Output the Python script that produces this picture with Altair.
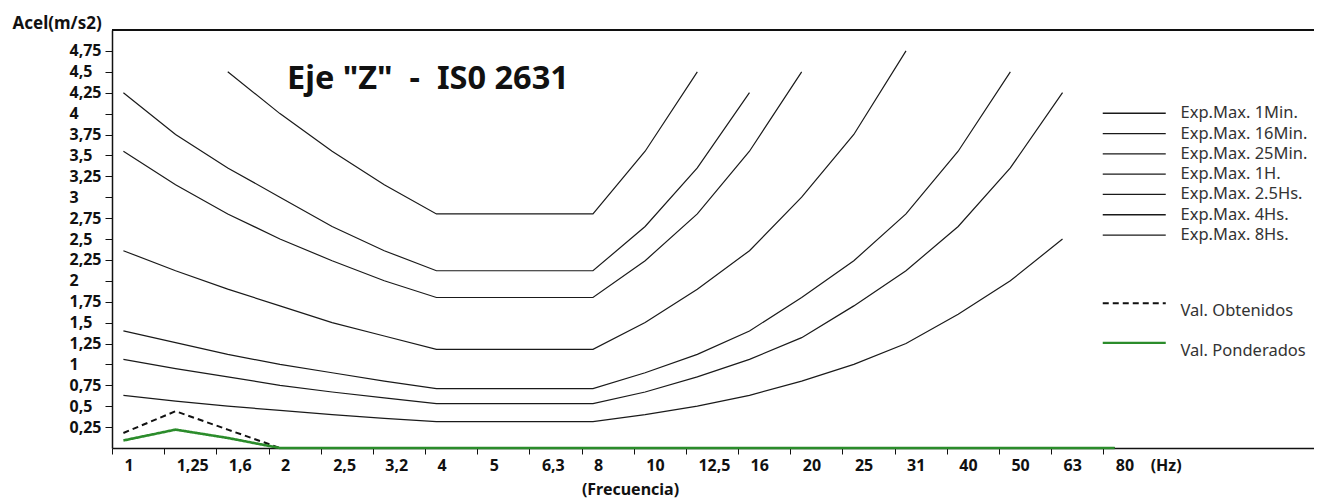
import json
import altair as alt
import pandas as pd

# ---------------- data ----------------
FREQ_LABELS = ["1", "1,25", "1,6", "2", "2,5", "3,2", "4", "5", "6,3", "8",
               "10", "12,5", "16", "20", "25", "31", "40", "50", "63", "80"]
UNIT_LABEL = "(Hz)"
Y_TICKS = [0.25, 0.5, 0.75, 1, 1.25, 1.5, 1.75, 2, 2.25, 2.5, 2.75, 3, 3.25,
           3.5, 3.75, 4, 4.25, 4.5, 4.75]

EXP_NAMES = ["Exp.Max. 1Min.", "Exp.Max. 16Min.", "Exp.Max. 25Min.", "Exp.Max. 1H.",
             "Exp.Max. 2.5Hs.", "Exp.Max. 4Hs.", "Exp.Max. 8Hs."]
# values start at the first frequency index given in EXP_START
EXP_START = [2, 0, 0, 0, 0, 0, 0]
EXP_1MIN = [4.5, 4.0, 3.55, 3.15, 2.8, 2.8, 2.8, 2.8, 3.55, 4.5]
EXP_16MIN = [4.25, 3.75, 3.35, 3.0, 2.65, 2.36, 2.12, 2.12, 2.12, 2.12, 2.65, 3.35, 4.25]
EXP_25MIN = [3.55, 3.15, 2.8, 2.5, 2.24, 2.0, 1.8, 1.8, 1.8, 1.8, 2.24, 2.8, 3.55, 4.5]
EXP_1H = [2.36, 2.12, 1.9, 1.7, 1.5, 1.34, 1.18, 1.18, 1.18, 1.18, 1.5, 1.9, 2.36, 3.0,
          3.75, 4.75]
EXP_2_5H = [1.4, 1.26, 1.12, 1.0, 0.9, 0.8, 0.71, 0.71, 0.71, 0.71, 0.9, 1.12, 1.4, 1.8,
            2.24, 2.8, 3.55, 4.5]
EXP_4H = [1.06, 0.95, 0.85, 0.75, 0.67, 0.6, 0.53, 0.53, 0.53, 0.53, 0.67, 0.85, 1.06,
          1.32, 1.7, 2.12, 2.65, 3.35, 4.25]
EXP_8H = [0.63, 0.56, 0.5, 0.45, 0.4, 0.355, 0.315, 0.315, 0.315, 0.315, 0.4, 0.5, 0.63,
          0.8, 1.0, 1.25, 1.6, 2.0, 2.5]
EXP_SERIES = [EXP_1MIN, EXP_16MIN, EXP_25MIN, EXP_1H, EXP_2_5H, EXP_4H, EXP_8H]

VAL_NAMES = ["Val. Obtenidos", "Val. Ponderados"]
VAL_OBTENIDOS = [0.18, 0.44, 0.22, 0, 0, 0, 0, 0, 0, 0, 0, 0, 0, 0, 0, 0, 0, 0, 0, 0]
VAL_PONDERADOS = [0.09, 0.22, 0.12, 0, 0, 0, 0, 0, 0, 0, 0, 0, 0, 0, 0, 0, 0, 0, 0, 0]

# ---------------- tables ----------------
rows = []
for name, start, vals in zip(EXP_NAMES, EXP_START, EXP_SERIES):
    for k, v in enumerate(vals):
        rows.append({"idx": start + k, "serie": name, "value": v})
df_exp = pd.DataFrame(rows)

rows = []
for name, vals in zip(VAL_NAMES, [VAL_OBTENIDOS, VAL_PONDERADOS]):
    for k, v in enumerate(vals):
        rows.append({"idx": k, "medida": name, "value": v})
df_val = pd.DataFrame(rows)

FONT = "Noto Sans"
X_OFF = 0.2185
X_MAX = 22.82
tick_vals = [k - X_OFF for k in range(len(FREQ_LABELS))] + [19.45]
lab_js = json.dumps(FREQ_LABELS + [UNIT_LABEL])

x_axis = alt.Axis(
    values=tick_vals,
    labelExpr=f"{lab_js}[round(datum.value + {X_OFF})]",
    labelAlign="left", labelOffset=12, labelPadding=3, labelBaseline="top",
    labelFont=FONT, labelFontSize=16, labelFontWeight="bold", labelColor="#111",
    labelOverlap=False, labelFlush=False,
    tickSize=6, tickColor="#111", tickWidth=1,
    tickOpacity={"condition": {"test": "datum.value > 19", "value": 0}, "value": 1},
    domainColor="#111", domainWidth=1.5, grid=False,
    title="(Frecuencia)", titleFont=FONT, titleFontSize=16, titleFontWeight="bold",
    titleColor="#111", titleX=518, titleY=41, titleAlign="center",
    titleBaseline="middle", titleAnchor="start",
)
y_axis = alt.Axis(
    values=Y_TICKS,
    labelExpr="replace(toString(datum.value), '.', ',')",
    labelAlign="left", labelPadding=36, labelBaseline="middle",
    labelFont=FONT, labelFontSize=16, labelFontWeight="bold", labelColor="#111",
    labelOverlap=False, labelFlush=False, labelSeparation=0,
    tickSize=7, tickColor="#111", tickWidth=1,
    domainColor="#111", domainWidth=1.5, grid=False,
    title="Acel(m/s2)", titleAngle=0, titleX=-100, titleY=-7, titleAlign="left",
    titleBaseline="middle", titleFont=FONT, titleFontSize=17, titleFontWeight="bold",
    titleColor="#111", titleAnchor="start",
)
x_scale = alt.Scale(domain=[-X_OFF, X_MAX], nice=False, zero=False)
y_scale = alt.Scale(domain=[0, 5], nice=False)

exp_layer = alt.Chart(df_exp).mark_line(strokeWidth=1.2).encode(
    x=alt.X("idx:Q", scale=x_scale, axis=x_axis),
    y=alt.Y("value:Q", scale=y_scale, axis=y_axis),
    color=alt.Color(
        "serie:N",
        scale=alt.Scale(domain=EXP_NAMES, range=["#1a1a1a"] * len(EXP_NAMES)),
        legend=alt.Legend(
            orient="none", legendX=1014, legendY=75, title=None, padding=0,
            symbolType="M-10,0H10", symbolSize=39.69, symbolStrokeWidth=1.3,
            labelFont=FONT, labelFontSize=16.5, labelColor="#333", labelOffset=38,
            rowPadding=3.3, labelLimit=300,
        ),
    ),
    order=alt.Order("idx:Q"),
)

val_layer = alt.Chart(df_val).mark_line().encode(
    x=alt.X("idx:Q", scale=x_scale, axis=x_axis),
    y=alt.Y("value:Q", scale=y_scale, axis=y_axis),
    color=alt.Color(
        "medida:N",
        scale=alt.Scale(domain=VAL_NAMES, range=["#111111", "#2b8c2b"]),
        legend=alt.Legend(
            orient="none", legendX=1014, legendY=265, title=None, padding=0,
            symbolType="M-10,0H10", symbolSize=39.69, symbolStrokeWidth=2.2,
            labelFont=FONT, labelFontSize=16.5, labelColor="#333", labelOffset=38,
            rowPadding=14.6, labelLimit=300, labelBaseline="top",
        ),
    ),
    strokeDash=alt.StrokeDash(
        "medida:N",
        scale=alt.Scale(domain=VAL_NAMES, range=[[6, 4], [1, 0]]),
    ),
    strokeWidth=alt.StrokeWidth(
        "medida:N",
        scale=alt.Scale(domain=VAL_NAMES, range=[2, 2.6]),
        legend=None,
    ),
    order=alt.Order("idx:Q"),
)

top_line = alt.Chart(df_val).mark_rule(color="#111", strokeWidth=1.5).encode(
    y=alt.datum(5, scale=y_scale, axis=y_axis)
)

chart = alt.layer(exp_layer, val_layer, top_line).resolve_scale(
    color="independent", strokeDash="independent"
).properties(
    width=1202, height=418,
    padding={"left": 104, "top": 22, "right": 0, "bottom": 52},
    autosize=alt.AutoSizeParams(type="none"),
    title=alt.Title(
        text='Eje "Z"\u00a0\u00a0-\u00a0\u00a0IS0 2631',
        anchor="start", frame="group", dx=175, dy=107, offset=0,
        font=FONT, fontSize=32.5, fontWeight="bold", color="#111",
        baseline="alphabetic",
    ),
).configure_view(stroke=None).configure_axisY(labelOverlap=False).configure(
    background="white"
)

chart.save("out.html", embed_options={"renderer": "svg", "actions": False})
